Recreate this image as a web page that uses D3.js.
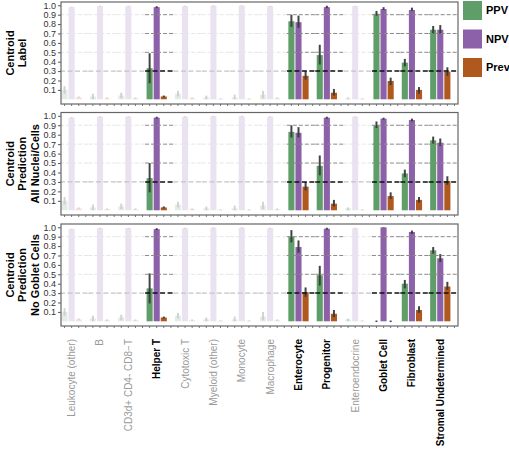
<!DOCTYPE html>
<html>
<head>
<meta charset="utf-8">
<script src="https://cdn.jsdelivr.net/npm/d3@7/dist/d3.min.js"></script>
<style>
  html, body { margin: 0; padding: 0; background: #fff; }
  svg { display: block; font-family: "Liberation Sans", Arial, Helvetica, sans-serif; }
</style>
</head>
<body>
<svg id="chart" width="509" height="454"></svg>
<script>
// ---------------- DATA ----------------
const categories = ["Leukocyte (other)", "B", "CD3d+ CD4- CD8\u2212T", "Helper T", "Cytotoxic T",
  "Myeloid (other)", "Monocyte", "Macrophage", "Enterocyte", "Progenitor", "Enteroendocrine",
  "Goblet Cell", "Fibroblast", "Stromal Undetermined"];
const highlighted = [false, false, false, true, false, false, false, false, true, true, false, true, true, true];
const seriesNames = ["PPV", "NPV", "Prev"];
const panelTitles = [["Centroid", "Label"], ["Centroid", "Prediction", "All Nuclei/Cells"], ["Centroid", "Prediction", "No Goblet Cells"]];
const yTicks = [0.1, 0.2, 0.3, 0.4, 0.5, 0.6, 0.7, 0.8, 0.9, 1.0];
const refLinesLight = [0.5, 0.7, 0.9];
const refLineMain = 0.3;

// Panel 1: Centroid Label
const ppvLabel    = [0.10, 0.03, 0.04, 0.33, 0.06, 0.02, 0.02, 0.05, 0.83, 0.47, 0.01, 0.91, 0.39, 0.74];
const ppvLabelLo  = [0.06, 0.00, 0.01, 0.17, 0.03, 0.00, 0.00, 0.01, 0.77, 0.37, 0.00, 0.89, 0.35, 0.70];
const ppvLabelHi  = [0.14, 0.06, 0.07, 0.49, 0.09, 0.04, 0.05, 0.09, 0.90, 0.58, 0.02, 0.94, 0.43, 0.78];
const npvLabel    = [0.98, 0.99, 0.99, 0.98, 0.99, 0.995, 0.995, 0.99, 0.82, 0.98, 0.99, 0.96, 0.95, 0.74];
const npvLabelLo  = [0.975, 0.985, 0.985, 0.97, 0.985, 0.99, 0.99, 0.985, 0.76, 0.97, 0.985, 0.95, 0.94, 0.70];
const npvLabelHi  = [0.985, 0.995, 0.995, 0.99, 0.995, 1.0, 1.0, 0.995, 0.89, 0.995, 0.995, 0.98, 0.975, 0.79];
const prevLabel   = [0.02, 0.01, 0.01, 0.03, 0.01, 0.005, 0.005, 0.01, 0.25, 0.07, 0.005, 0.195, 0.10, 0.295];
const prevLabelLo = [0.015, 0.005, 0.005, 0.02, 0.005, 0.0, 0.0, 0.005, 0.21, 0.04, 0.0, 0.15, 0.06, 0.25];
const prevLabelHi = [0.03, 0.02, 0.02, 0.04, 0.02, 0.01, 0.01, 0.02, 0.30, 0.11, 0.01, 0.23, 0.13, 0.34];

// Panel 2: Centroid Prediction, All Nuclei/Cells
const ppvAll    = [0.10, 0.03, 0.04, 0.34, 0.06, 0.02, 0.02, 0.05, 0.83, 0.47, 0.02, 0.90, 0.39, 0.74];
const ppvAllLo  = [0.06, 0.00, 0.01, 0.19, 0.03, 0.00, 0.00, 0.01, 0.77, 0.37, 0.00, 0.87, 0.35, 0.705];
const ppvAllHi  = [0.14, 0.06, 0.07, 0.50, 0.09, 0.04, 0.05, 0.09, 0.90, 0.58, 0.03, 0.94, 0.43, 0.78];
const npvAll    = [0.98, 0.99, 0.99, 0.98, 0.99, 0.995, 0.995, 0.99, 0.82, 0.98, 0.99, 0.97, 0.955, 0.715];
const npvAllLo  = [0.975, 0.985, 0.985, 0.97, 0.985, 0.99, 0.99, 0.985, 0.77, 0.97, 0.985, 0.96, 0.94, 0.68];
const npvAllHi  = [0.985, 0.995, 0.995, 0.99, 0.995, 1.0, 1.0, 0.995, 0.88, 0.99, 0.995, 0.98, 0.97, 0.76];
const prevAll   = [0.02, 0.01, 0.01, 0.03, 0.01, 0.005, 0.005, 0.01, 0.25, 0.07, 0.005, 0.15, 0.11, 0.31];
const prevAllLo = [0.015, 0.005, 0.005, 0.02, 0.005, 0.0, 0.0, 0.005, 0.21, 0.04, 0.0, 0.12, 0.08, 0.27];
const prevAllHi = [0.03, 0.02, 0.02, 0.04, 0.02, 0.01, 0.01, 0.02, 0.30, 0.11, 0.01, 0.19, 0.14, 0.36];

// Panel 3: Centroid Prediction, No Goblet Cells
const ppvNoGob    = [0.10, 0.03, 0.04, 0.35, 0.06, 0.02, 0.02, 0.05, 0.90, 0.49, 0.02, 0.0, 0.40, 0.755];
const ppvNoGobLo  = [0.06, 0.00, 0.01, 0.19, 0.03, 0.00, 0.00, 0.01, 0.84, 0.38, 0.00, -0.008, 0.35, 0.72];
const ppvNoGobHi  = [0.14, 0.06, 0.07, 0.51, 0.09, 0.04, 0.05, 0.10, 0.97, 0.59, 0.03, 0.008, 0.44, 0.79];
const npvNoGob    = [0.98, 0.99, 0.99, 0.98, 0.99, 0.995, 0.995, 0.99, 0.79, 0.985, 0.99, 0.999, 0.95, 0.67];
const npvNoGobLo  = [0.975, 0.985, 0.985, 0.97, 0.985, 0.99, 0.99, 0.985, 0.73, 0.975, 0.985, 0.995, 0.93, 0.63];
const npvNoGobHi  = [0.985, 0.995, 0.995, 0.99, 0.995, 1.0, 1.0, 0.995, 0.86, 0.995, 0.995, 1.0, 0.965, 0.715];
const prevNoGob   = [0.02, 0.01, 0.01, 0.04, 0.01, 0.005, 0.005, 0.01, 0.31, 0.08, 0.005, 0.0, 0.12, 0.37];
const prevNoGobLo = [0.015, 0.005, 0.005, 0.03, 0.005, 0.0, 0.0, 0.005, 0.26, 0.045, 0.0, -0.008, 0.09, 0.335];
const prevNoGobHi = [0.03, 0.02, 0.02, 0.05, 0.02, 0.01, 0.01, 0.02, 0.36, 0.12, 0.01, 0.008, 0.16, 0.42];

// ---------------- BUILD ----------------
const colors = { PPV: "#5f9e68", NPV: "#8c61aa", Prev: "#b0591f" };

const panels = [
  { title: panelTitles[0], top: 2,     bottom: 104,
    series: { PPV: [ppvLabel, ppvLabelLo, ppvLabelHi], NPV: [npvLabel, npvLabelLo, npvLabelHi], Prev: [prevLabel, prevLabelLo, prevLabelHi] } },
  { title: panelTitles[1], top: 112.5, bottom: 215,
    series: { PPV: [ppvAll, ppvAllLo, ppvAllHi], NPV: [npvAll, npvAllLo, npvAllHi], Prev: [prevAll, prevAllLo, prevAllHi] } },
  { title: panelTitles[2], top: 224,   bottom: 326,
    series: { PPV: [ppvNoGob, ppvNoGobLo, ppvNoGobHi], NPV: [npvNoGob, npvNoGobLo, npvNoGobHi], Prev: [prevNoGob, prevNoGobLo, prevNoGobHi] } }
];

const svg = d3.select("#chart");
const left = 61, right = 458;
const nSlots = categories.length * 4;

const xSlot = d3.scaleBand().domain(d3.range(nSlots)).range([left, right]).paddingInner(0.14).paddingOuter(0.07);
const xCat = d3.scaleBand().domain(categories).range([left, right]);

panels.forEach((p) => {
  const y = d3.scaleLinear().domain([-0.05, 1.035]).range([p.bottom, p.top]);
  const g = svg.append("g");

  const rows = [];
  categories.forEach((c, i) => {
    seriesNames.forEach((s, j) => {
      const arr = p.series[s];
      rows.push({ cat: i, s, slot: i * 4 + j, v: arr[0][i], lo: arr[1][i], hi: arr[2][i], hl: highlighted[i] });
    });
  });

  // bars
  g.selectAll("rect.bar").data(rows).join("rect")
    .attr("class", "bar")
    .attr("x", d => xSlot(d.slot))
    .attr("width", xSlot.bandwidth())
    .attr("y", d => y(Math.max(d.v, 0)))
    .attr("height", d => Math.max(0, y(0) - y(Math.max(d.v, 0))))
    .attr("fill", d => colors[d.s])
    .attr("fill-opacity", d => d.hl ? 1 : 0.18);

  // error bars
  g.selectAll("line.err").data(rows).join("line")
    .attr("class", "err")
    .attr("x1", d => xSlot(d.slot) + xSlot.bandwidth() / 2)
    .attr("x2", d => xSlot(d.slot) + xSlot.bandwidth() / 2)
    .attr("y1", d => y(d.lo))
    .attr("y2", d => y(d.hi))
    .attr("stroke", d => d.hl ? "#3a3a3a" : "#c8c8c8")
    .attr("stroke-opacity", d => d.hl ? 0.95 : 0.8)
    .attr("stroke-width", 2);

  // reference dashed lines per category
  categories.forEach((c, i) => {
    const x0 = xCat(c) - 1, x1 = xCat(c) + xCat.bandwidth() - 1;
    refLinesLight.forEach(v => {
      g.append("line")
        .attr("x1", x0).attr("x2", x1).attr("y1", y(v)).attr("y2", y(v))
        .attr("stroke", highlighted[i] ? "#8a8a8a" : "#e6e6e6")
        .attr("stroke-width", 1)
        .attr("stroke-dasharray", "4,2");
    });
    g.append("line")
      .attr("x1", x0).attr("x2", x1).attr("y1", y(refLineMain)).attr("y2", y(refLineMain))
      .attr("stroke", highlighted[i] ? "#111" : "#c4c4c4")
      .attr("stroke-width", highlighted[i] ? 1.5 : 1.2)
      .attr("stroke-dasharray", "5,2.5");
  });

  // y axis
  const ya = g.append("g").attr("transform", `translate(${left},0)`)
    .call(d3.axisLeft(y).tickValues(yTicks).tickSize(3).tickPadding(2).tickFormat(d3.format(".1f")));
  ya.select(".domain").remove();
  ya.selectAll("text").attr("font-size", 9).attr("fill", "#333");
  ya.selectAll("line").attr("stroke", "#555");

  // x axis ticks (one per bar slot)
  const xa = g.append("g").attr("transform", `translate(0,${p.bottom})`)
    .call(d3.axisBottom(xSlot).tickSize(2).tickFormat(""));
  xa.select(".domain").remove();
  xa.selectAll("line").attr("stroke", "#777");

  // frame
  g.append("rect")
    .attr("x", left).attr("y", p.top)
    .attr("width", right - left).attr("height", p.bottom - p.top)
    .attr("fill", "none").attr("stroke", "#666").attr("stroke-width", 1.2);

  // panel title
  const cy = (p.top + p.bottom) / 2;
  p.title.forEach((line, k) => {
    svg.append("text")
      .attr("transform", `translate(${10 + k * 12.5},${cy}) rotate(-90)`)
      .attr("text-anchor", "middle")
      .attr("dy", "0.35em")
      .attr("font-size", 11)
      .attr("font-weight", "bold")
      .attr("fill", "#000")
      .text(line);
  });
});

// x labels
categories.forEach((c, i) => {
  const cx = xSlot(i * 4 + 1) + xSlot.bandwidth() / 2;
  svg.append("text")
    .attr("transform", `translate(${cx},339) rotate(-90)`)
    .attr("text-anchor", "end")
    .attr("dy", "0.35em")
    .attr("font-size", 10)
    .attr("font-weight", highlighted[i] ? "bold" : "normal")
    .attr("fill", highlighted[i] ? "#000" : "#9a9a9a")
    .text(c);
});

// legend
const legend = svg.append("g");
seriesNames.forEach((s, k) => {
  const ly = 1 + k * 28.5;
  legend.append("rect").attr("x", 463).attr("y", ly).attr("width", 19).attr("height", 19)
    .attr("fill", colors[s]);
  legend.append("text").attr("x", 486).attr("y", ly + 9.5).attr("dy", "0.35em")
    .attr("font-size", 11).attr("font-weight", "bold").attr("fill", "#000").text(s);
});
</script>
</body>
</html>
